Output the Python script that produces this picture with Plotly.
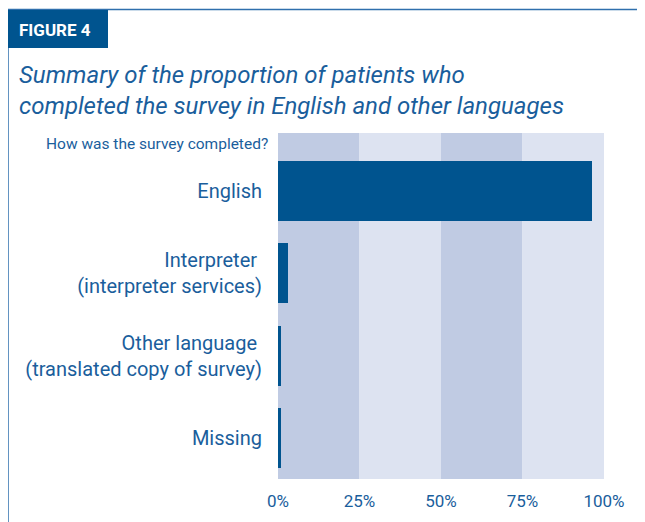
import plotly.graph_objects as go

# data (percent of patients)
categories = [
    'English',
    'Interpreter\u00a0<br>(interpreter services)',
    'Other language\u00a0<br>(translated copy of survey)',
    'Missing',
]
percent = [96.3, 3.1, 1.0, 1.0]
tick_vals = [0, 25, 50, 75, 100]
tick_text = ['0%', '25%', '50%', '75%', '100%']

W, H = 645, 522
OFF = 8  # the page body adds an 8px margin; positions below are screen pixels
L, R, T, B = 278 - OFF, 41 + OFF, 133 - OFF, 43 + OFF
PW, PH = W - L - R, H - T - B

DARK = '#00548F'
TEXT = '#1A5E9C'
BAND_A = '#C0CBE3'
BAND_B = '#DDE3F1'
FONT = 'Roboto, Liberation Sans, sans-serif'


def px_x(px):
    return (px - OFF - L) / PW


def px_y(py):
    return 1 - (py - OFF - T) / PH


fig = go.Figure(
    go.Bar(
        x=percent,
        y=categories,
        orientation='h',
        marker=dict(color=DARK, line_width=0),
        width=0.73,
        hoverinfo='x+y',
    )
)

# alternating background bands
for i in range(len(tick_vals) - 1):
    fig.add_shape(
        type='rect', xref='x', yref='paper',
        x0=tick_vals[i], x1=tick_vals[i + 1], y0=0, y1=1,
        fillcolor=BAND_A if i % 2 == 0 else BAND_B,
        line_width=0, layer='below'
    )

# frame and "FIGURE 4" tab
fig.add_shape(type='line', xref='paper', yref='paper',
              x0=px_x(8), x1=px_x(W + 20), y0=px_y(9.5), y1=px_y(9.5),
              line=dict(color='#2F6FAD', width=1.5))
fig.add_shape(type='line', xref='paper', yref='paper',
              x0=px_x(8), x1=px_x(8), y0=px_y(9.5), y1=px_y(H + 20),
              line=dict(color='#2F6FAD', width=1.5))
fig.add_shape(type='rect', xref='paper', yref='paper',
              x0=px_x(8), x1=px_x(108), y0=px_y(10), y1=px_y(48),
              fillcolor=DARK, line_width=0)

fig.add_annotation(
    xref='paper', yref='paper', x=px_x(17), y=px_y(30),
    xanchor='left', yanchor='middle', showarrow=False,
    text='<b>FIGURE 4</b>',
    font=dict(family=FONT, size=17, color='white')
)
fig.add_annotation(
    xref='paper', yref='paper', x=px_x(17), y=px_y(59),
    xanchor='left', yanchor='top', showarrow=False, align='left',
    text='<i>Summary of the proportion of patients who<br>'
         'completed the survey in English and other languages</i>',
    font=dict(family=FONT, size=24, color=TEXT)
)
fig.add_annotation(
    xref='paper', yref='paper', x=px_x(270), y=px_y(144),
    xanchor='right', yanchor='middle', showarrow=False,
    text='How was the survey completed?',
    font=dict(family=FONT, size=15.5, color=TEXT)
)

fig.update_layout(
    width=W, height=H,
    margin=dict(l=L, r=R, t=T, b=B),
    paper_bgcolor='white',
    plot_bgcolor='white',
    showlegend=False,
    bargap=0,
    font=dict(family=FONT, color=TEXT),
    xaxis=dict(
        range=[0, 100],
        tickvals=tick_vals,
        ticktext=tick_text,
        showgrid=False,
        zeroline=False,
        showline=False,
        ticks='',
        ticklabelstandoff=10,
        tickfont=dict(family=FONT, size=17, color=TEXT),
        automargin=False,
        fixedrange=True,
    ),
    yaxis=dict(
        type='category',
        range=[3.5, -0.705],
        showgrid=False,
        zeroline=False,
        showline=False,
        ticks='',
        ticklabelstandoff=15,
        tickfont=dict(family=FONT, size=20, color=TEXT),
        automargin=False,
        fixedrange=True,
    ),
)

fig.write_html('out.html')
